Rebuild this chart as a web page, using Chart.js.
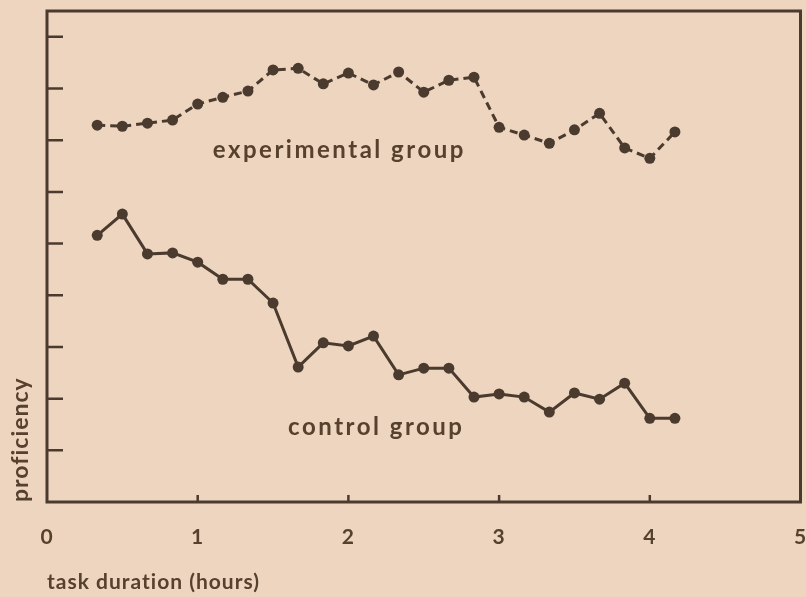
<!DOCTYPE html>
<html>
<head>
<meta charset="utf-8">
<script src="https://cdn.jsdelivr.net/npm/chart.js@4/dist/chart.umd.min.js"></script>
<style>
  html, body { margin: 0; padding: 0; background: #eed5bf; }
  #wrap { width: 806px; height: 597px; }
</style>
</head>
<body>
<div id="wrap"><canvas id="chart-canvas" width="806" height="597"></canvas></div>
<script>
// minutes into the task at which each reading was taken
const minutes = [20, 30, 40, 50, 60, 70, 80, 90, 100, 110, 120, 130,
                 140, 150, 160, 170, 180, 190, 200, 210, 220, 230, 240, 250];

// proficiency (arbitrary units, axis has no numbers)
const experimental = [7.29, 7.27, 7.33, 7.39, 7.70, 7.83, 7.95, 8.36, 8.39, 8.09, 8.30, 8.07,
                      8.32, 7.93, 8.16, 8.22, 7.25, 7.10, 6.94, 7.20, 7.52, 6.85, 6.65, 7.16];
const control = [5.16, 5.57, 4.80, 4.82, 4.64, 4.31, 4.31, 3.85, 2.61, 3.08, 3.02, 3.21,
                 2.46, 2.59, 2.59, 2.03, 2.09, 2.03, 1.74, 2.11, 1.99, 2.30, 1.62, 1.62];

const hourTicks = [0, 1, 2, 3, 4, 5];

const ink = '#4b3b2e';
const textInk = '#56412f';
const fontFamily = 'Lato, "DejaVu Sans", sans-serif';

// the printed lettering is spaced out a little
const spacedText = {
  id: 'spacedText',
  beforeDraw(chart) {
    chart.ctx.letterSpacing = '1px';
  }
};

// box around the plot with inward tick marks, like the printed figure
const frame = {
  id: 'frame',
  beforeDatasetsDraw(chart) {
    const { ctx, chartArea: a, scales: { x, y } } = chart;
    ctx.save();
    ctx.strokeStyle = ink;
    ctx.lineWidth = 3;
    ctx.strokeRect(a.left, a.top, a.right - a.left, a.bottom - a.top);
    ctx.lineWidth = 2.5;
    ctx.beginPath();
    y.ticks.forEach(t => {
      if (t.value <= 0 || t.value % 1 !== 0) return;
      const py = y.getPixelForValue(t.value);
      ctx.moveTo(a.left, py);
      ctx.lineTo(a.left + 16, py);
    });
    x.ticks.forEach(t => {
      if (t.value <= x.min || t.value >= x.max) return;
      const px = x.getPixelForValue(t.value);
      ctx.moveTo(px, a.bottom);
      ctx.lineTo(px, a.bottom - 7);
    });
    ctx.stroke();
    ctx.restore();
  }
};

// "experimental group" / "control group" written next to the curves
const groupLabels = {
  id: 'groupLabels',
  afterDatasetsDraw(chart, args, opts) {
    const { ctx, scales: { x, y } } = chart;
    ctx.save();
    ctx.fillStyle = textInk;
    ctx.font = opts.font;
    ctx.letterSpacing = opts.spacing;
    ctx.textAlign = 'left';
    ctx.textBaseline = 'alphabetic';
    opts.items.forEach(it => {
      ctx.fillText(it.text, x.getPixelForValue(it.x), y.getPixelForValue(it.y));
    });
    ctx.restore();
  }
};

new Chart(document.getElementById('chart-canvas'), {
  type: 'line',
  plugins: [spacedText, frame, groupLabels],
  data: {
    datasets: [
      {
        label: 'experimental group',
        data: minutes.map((m, i) => ({ x: m / 60, y: experimental[i] })),
        borderColor: ink,
        backgroundColor: ink,
        borderWidth: 3,
        borderDash: [8, 5],
        pointRadius: 5.5,
        pointBorderWidth: 0,
        tension: 0
      },
      {
        label: 'control group',
        data: minutes.map((m, i) => ({ x: m / 60, y: control[i] })),
        borderColor: ink,
        backgroundColor: ink,
        borderWidth: 3,
        pointRadius: 5.5,
        pointBorderWidth: 0,
        tension: 0
      }
    ]
  },
  options: {
    responsive: false,
    animation: false,
    devicePixelRatio: 1,
    layout: { padding: { top: 11, right: 4, left: 0, bottom: 0 } },
    plugins: {
      legend: { display: false },
      tooltip: { enabled: false },
      groupLabels: {
        font: 'bold 24px ' + fontFamily,
        spacing: '2.5px',
        items: [
          { text: 'experimental group', x: 1.10, y: 6.65 },
          { text: 'control group', x: 1.60, y: 1.30 }
        ]
      }
    },
    scales: {
      x: {
        type: 'linear',
        min: 0,
        max: 5,
        afterFit: s => { s.height = 95; s.paddingLeft = 0; s.paddingRight = 0; },
        afterBuildTicks: axis => { axis.ticks = hourTicks.map(v => ({ value: v })); },
        grid: { display: false, drawTicks: false },
        border: { display: false },
        ticks: {
          color: textInk,
          font: { family: fontFamily, weight: 'bold', size: 21 },
          padding: 23,
          maxRotation: 0,
          autoSkip: false
        },
        title: {
          display: true,
          text: 'task duration (hours)',
          align: 'start',
          color: textInk,
          font: { family: fontFamily, weight: 'bold', size: 21 },
          padding: { top: 0, bottom: 2 }
        }
      },
      y: {
        min: 0,
        max: 9.5,
        afterFit: s => { s.width = 47; },
        grid: { display: false, drawTicks: false },
        border: { display: false },
        ticks: { display: false, stepSize: 1 },
        title: {
          display: true,
          text: 'proficiency',
          align: 'start',
          color: textInk,
          font: { family: fontFamily, weight: 'bold', size: 23 },
          padding: { top: 7, bottom: 0 }
        }
      }
    }
  }
});
</script>
</body>
</html>
